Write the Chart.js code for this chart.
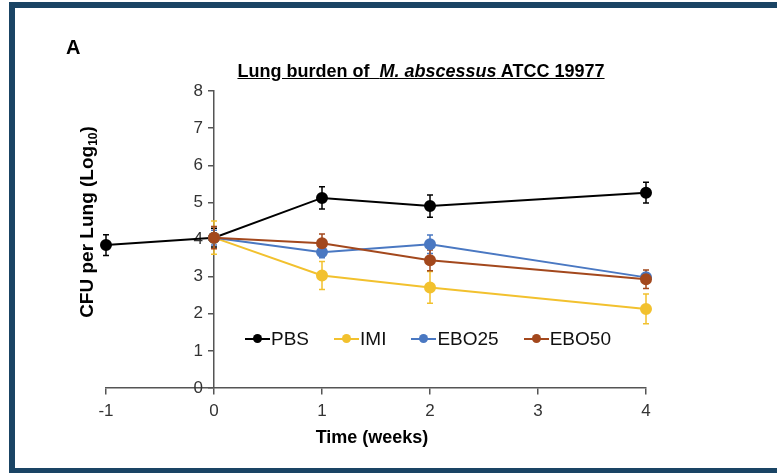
<!DOCTYPE html>
<html>
<head>
<meta charset="utf-8">
<script src="https://cdn.jsdelivr.net/npm/chart.js@4/dist/chart.umd.min.js"></script>
<style>
body { margin: 0; background: #fff; font-family: "Liberation Sans", Arial, sans-serif; }
#wrap { position: relative; width: 777px; height: 473px; overflow: hidden; background: #fff; }
.frame { position: absolute; background: #1a4464; }
canvas { position: absolute; left: 0; top: 0; }
.txt { position: absolute; white-space: nowrap; color: #000; font-weight: bold; }
#panel { left: 66px; top: 36px; font-size: 20px; }
#title { left: 421px; top: 61px; font-size: 18px; transform: translateX(-50%); text-decoration: underline; }
#ytitle { left: 88px; top: 222px; font-size: 19px; transform: translate(-50%, -50%) rotate(-90deg); }
#ytitle sub { font-size: 12px; }
#xtitle { left: 372px; top: 437px; font-size: 18px; transform: translate(-50%, -50%); }
#legend { position: absolute; left: 245px; top: 339px; transform: translateY(-50%); display: flex; font-size: 19px; color: #111; }
.item { display: flex; align-items: center; margin-right: 25px; }
.mark { position: relative; width: 25px; height: 2px; margin-right: 1px; }
.mark::after { content: ""; position: absolute; left: 8px; top: -4px; width: 9px; height: 9px; border-radius: 50%; background: inherit; }
</style>
</head>
<body>
<div id="wrap">
  <div class="frame" style="left:9px;top:2px;width:768px;height:6px"></div>
  <div class="frame" style="left:9px;top:2px;width:6px;height:471px"></div>
  <div class="frame" style="left:9px;top:468px;width:768px;height:5px"></div>
  <canvas id="chart" width="777" height="473"></canvas>
  <div class="txt" id="panel">A</div>
  <div class="txt" id="title">Lung burden of&nbsp; <i>M. abscessus</i> ATCC 19977</div>
  <div class="txt" id="ytitle">CFU per Lung (Log<sub>10</sub>)</div>
  <div class="txt" id="xtitle">Time (weeks)</div>
  <div id="legend"></div>
</div>
<script>
// weeks after infection
const pbsWeeks = [-1, 0, 1, 2, 4];
const treatWeeks = [0, 1, 2, 4];

// log10 CFU per lung, mean and error
const pbs = [3.85, 4.05, 5.12, 4.90, 5.26];
const pbsErr = [0.28, 0.25, 0.30, 0.30, 0.28];
const imi = [4.05, 3.03, 2.71, 2.13];
const imiErr = [0.45, 0.38, 0.43, 0.40];
const ebo25 = [4.05, 3.66, 3.87, 2.98];
const ebo25Err = [0.20, 0.15, 0.25, 0.12];
const ebo50 = [4.05, 3.90, 3.44, 2.93];
const ebo50Err = [0.30, 0.25, 0.28, 0.25];

const seriesNames = ['PBS', 'IMI', 'EBO25', 'EBO50'];
const colors = ['#000000', '#f2c12e', '#4a78c2', '#a3481d'];

function pts(xs, ys) {
  return xs.map((x, i) => ({ x: x, y: ys[i] }));
}

function makeSet(i, xs, ys, errs, order) {
  return {
    label: seriesNames[i],
    data: pts(xs, ys),
    errors: errs,
    borderColor: colors[i],
    backgroundColor: colors[i],
    borderWidth: 2,
    pointRadius: 5,
    pointHoverRadius: 5,
    clip: false,
    order: order
  };
}

const errorBars = {
  id: 'errorBars',
  beforeDatasetsDraw(chart) {
    const ctx = chart.ctx;
    const x = chart.scales.x, y = chart.scales.y;
    chart.data.datasets.forEach((ds) => {
      ctx.save();
      ctx.strokeStyle = ds.borderColor;
      ctx.lineWidth = 1.5;
      ds.data.forEach((p, j) => {
        const e = ds.errors[j];
        const px = x.getPixelForValue(p.x);
        const top = y.getPixelForValue(p.y + e);
        const bot = y.getPixelForValue(p.y - e);
        ctx.beginPath();
        ctx.moveTo(px, top); ctx.lineTo(px, bot);
        ctx.moveTo(px - 3, top); ctx.lineTo(px + 3, top);
        ctx.moveTo(px - 3, bot); ctx.lineTo(px + 3, bot);
        ctx.stroke();
      });
      ctx.restore();
    });
  }
};

// the y axis crosses the x axis at week 0, with labels on its left
const yAtZero = {
  id: 'yAtZero',
  afterLayout(chart) {
    const y = chart.scales.y;
    const px = chart.scales.x.getPixelForValue(0);
    y.left = px - 40;
    y.right = px;
    y.width = 40;
  }
};

const axisColor = '#555';
const tickFont = { family: '"Liberation Sans", Arial, sans-serif', size: 17 };

new Chart(document.getElementById('chart'), {
  type: 'line',
  data: {
    datasets: [
      makeSet(0, pbsWeeks, pbs, pbsErr, 3),
      makeSet(1, treatWeeks, imi, imiErr, 2),
      makeSet(2, treatWeeks, ebo25, ebo25Err, 1),
      makeSet(3, treatWeeks, ebo50, ebo50Err, 0)
    ]
  },
  options: {
    responsive: false,
    animation: false,
    layout: { padding: { left: 106, right: 131, top: 91, bottom: 85 } },
    plugins: { legend: { display: false }, tooltip: { enabled: false } },
    scales: {
      x: {
        type: 'linear',
        position: { y: 0 },
        min: -1, max: 4,
        ticks: { stepSize: 1, color: '#333', font: tickFont, padding: 7 },
        grid: { drawOnChartArea: false, tickLength: 6, color: axisColor, lineWidth: 1.5 },
        border: { color: axisColor, width: 1.5 }
      },
      y: {
        type: 'linear',
        position: 'left',
        min: 0, max: 8,
        afterFit(scale) { scale.width = 0; },
        ticks: { stepSize: 1, color: '#333', font: tickFont, padding: 5 },
        grid: { drawOnChartArea: false, tickLength: 6, color: axisColor, lineWidth: 1.5 },
        border: { color: axisColor, width: 1.5 }
      }
    }
  },
  plugins: [errorBars, yAtZero]
});

// legend row inside the plot
const legend = document.getElementById('legend');
seriesNames.forEach((name, i) => {
  const item = document.createElement('div');
  item.className = 'item';
  const mark = document.createElement('span');
  mark.className = 'mark';
  mark.style.background = colors[i];
  item.appendChild(mark);
  item.appendChild(document.createTextNode(name));
  legend.appendChild(item);
});
</script>
</body>
</html>
